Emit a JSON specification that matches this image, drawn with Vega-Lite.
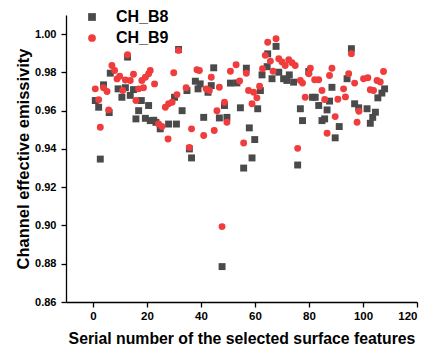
{
  "$schema": "https://vega.github.io/schema/vega-lite/v6.json",
  "width": 351,
  "height": 287,
  "autosize": {"type": "none"},
  "padding": {"left": 66, "top": 15, "right": 11, "bottom": 45},
  "background": "white",
  "config": {"view": {"stroke": null}, "font": "Liberation Sans"},
  "datasets": {
    "b8": [[0.85,0.9653],[2.1,0.9618],[2.7,0.9347],[3.9,0.9735],[6,0.959],[6.4,0.9796],[9.3,0.9714],[10.7,0.967],[12,0.972],[12.8,0.988],[13.8,0.968],[15,0.971],[15.9,0.9557],[16.9,0.96],[17.9,0.9653],[19.4,0.956],[20.6,0.9627],[21.2,0.9548],[22.5,0.955],[23.3,0.9539],[24.9,0.9505],[28,0.953],[30.2,0.967],[30.9,0.953],[31.7,0.992],[33,0.96],[34.8,0.9705],[35.7,0.94],[36.5,0.9353],[37.9,0.9754],[38.9,0.9714],[39.7,0.974],[41,0.9565],[42.6,0.9696],[43.8,0.9731],[44.7,0.9824],[46.8,0.9562],[47.8,0.8785],[48.7,0.9627],[49.6,0.9565],[50.9,0.9744],[53.3,0.9745],[54.6,0.9615],[55.8,0.93],[56.8,0.9822],[57.9,0.951],[58.9,0.9353],[59.9,0.9449],[61,0.961],[62,0.9705],[62.6,0.9787],[64.5,0.983],[64.7,0.9897],[66.3,0.9767],[67.8,0.9936],[68.8,0.9801],[70.6,0.9767],[71.8,0.9758],[72.7,0.9787],[74.3,0.9749],[75.8,0.9316],[76.8,0.961],[77.6,0.9548],[79.9,0.9805],[81.3,0.967],[82.3,0.967],[83.6,0.9627],[84.8,0.9548],[85.8,0.9557],[86.7,0.9604],[87.6,0.965],[88.5,0.9722],[89.7,0.9458],[91.2,0.9517],[94.1,0.9767],[95.7,0.9924],[96.9,0.9636],[98.4,0.9615],[101.5,0.961],[102.7,0.9534],[103.6,0.9565],[104.6,0.9592],[105.5,0.9667],[107,0.9692],[108,0.9714]],
    "b9": [[0.85,0.9714],[2.1,0.9657],[2.7,0.9513],[3.9,0.972],[5.2,0.97],[5.8,0.9604],[7,0.9836],[8,0.981],[8.9,0.9766],[9.9,0.978],[11,0.9705],[12,0.976],[12.8,0.9892],[13.8,0.9758],[15,0.979],[15.9,0.9653],[16.9,0.9714],[18.1,0.9758],[18.7,0.972],[19.4,0.9775],[20.6,0.9793],[21.2,0.981],[22.8,0.974],[24.3,0.953],[25.5,0.9517],[26.8,0.9618],[27.8,0.9452],[28,0.9636],[29.3,0.9644],[29.9,0.9798],[31.1,0.9684],[31.7,0.9915],[34.5,0.972],[35.7,0.9408],[36.5,0.9505],[38.5,0.9814],[39.4,0.981],[41,0.947],[41.9,0.9714],[43.1,0.9705],[43.8,0.9775],[44.9,0.9496],[45.9,0.96],[46.8,0.9722],[47.8,0.8994],[48.7,0.9644],[49.6,0.9539],[50.9,0.9806],[53,0.984],[54.3,0.9755],[55.8,0.9431],[56.8,0.9796],[57.6,0.9705],[58.9,0.9636],[59.5,0.9696],[60.7,0.9667],[61.7,0.9728],[62.8,0.9819],[63.8,0.9889],[64.7,0.9958],[65.7,0.9859],[66.7,0.9806],[67.8,0.9976],[68.8,0.9871],[70,0.9854],[71.2,0.9836],[72.5,0.9866],[73.7,0.985],[74.9,0.9836],[75.8,0.9403],[76.8,0.9758],[77.6,0.9744],[78.6,0.967],[79.9,0.9793],[80.5,0.9822],[82.1,0.9762],[83.6,0.9762],[84.8,0.9705],[85.8,0.9658],[86.7,0.9482],[87.6,0.9784],[88.5,0.9822],[89.7,0.9569],[90.7,0.966],[92.8,0.9714],[93.5,0.9672],[94.7,0.9793],[95.7,0.9898],[96.9,0.9744],[97.8,0.9539],[98.5,0.9597],[100.2,0.9767],[101.8,0.9772],[102.7,0.9709],[103.9,0.9705],[105.2,0.9758],[106.4,0.975],[107.6,0.9805]]
  },
  "layer": [
    {
      "data": {"name": "b8"},
      "transform": [
        {"calculate": "datum[0]", "as": "x"},
        {"calculate": "datum[1]", "as": "v"},
        {"calculate": "'CH_B8'", "as": "s"}
      ],
      "mark": {"type": "point", "filled": true, "opacity": 1, "size": 48},
      "encoding": {
        "x": {"field": "x", "type": "quantitative"},
        "y": {"field": "v", "type": "quantitative"},
        "color": {"field": "s", "type": "nominal"},
        "shape": {"field": "s", "type": "nominal"}
      }
    },
    {
      "data": {"name": "b9"},
      "transform": [
        {"calculate": "datum[0]", "as": "x"},
        {"calculate": "datum[1]", "as": "v"},
        {"calculate": "'CH_B9'", "as": "s"}
      ],
      "mark": {"type": "point", "filled": true, "opacity": 1, "size": 48},
      "encoding": {
        "x": {
          "field": "x", "type": "quantitative",
          "scale": {"domain": [-10, 120], "nice": false, "zero": false},
          "axis": {
            "title": "Serial number of the selected surface features",
            "values": [0,10,20,30,40,50,60,70,80,90,100,110,120],
            "labelExpr": "datum.value % 20 == 0 ? datum.label : ''",
            "grid": false, "domainColor": "black", "tickColor": "black", "domainWidth": 1.3, "tickWidth": 1.3,
            "tickSize": 5, "labelPadding": 3, "labelFontSize": 11.5, "labelFontWeight": "bold", "labelColor": "black",
            "titleFontSize": 15.8, "titleFontWeight": "bold", "titleColor": "black", "titlePadding": 10
          }
        },
        "y": {
          "field": "v", "type": "quantitative",
          "scale": {"domain": [0.86, 1.01], "nice": false, "zero": false},
          "axis": {
            "title": "Channel effective emissivity",
            "values": [0.86,0.87,0.88,0.89,0.90,0.91,0.92,0.93,0.94,0.95,0.96,0.97,0.98,0.99,1.00,1.01],
            "format": ".2f",
            "labelExpr": "round(datum.value * 100) % 2 == 0 ? datum.label : ''",
            "grid": false, "domainColor": "black", "tickColor": "black", "domainWidth": 1.3, "tickWidth": 1.3,
            "tickSize": 5, "labelPadding": 5, "labelFontSize": 11, "labelFontWeight": "bold", "labelColor": "black",
            "titleFontSize": 16.5, "titleFontWeight": "bold", "titleColor": "black", "titlePadding": 3
          }
        },
        "color": {
          "field": "s", "type": "nominal",
          "scale": {"domain": ["CH_B8", "CH_B9"], "range": ["#4a4a4a", "#f03c3c"]},
          "legend": {
            "title": null, "orient": "none", "legendX": 18, "legendY": -6,
            "labelFontSize": 16, "labelFontWeight": "bold", "labelColor": "black",
            "symbolSize": 60, "labelOffset": 16, "rowPadding": 5, "padding": 0, "symbolStrokeWidth": 0
          }
        },
        "shape": {
          "field": "s", "type": "nominal",
          "scale": {"domain": ["CH_B8", "CH_B9"], "range": ["square", "circle"]}
        }
      }
    }
  ]
}
